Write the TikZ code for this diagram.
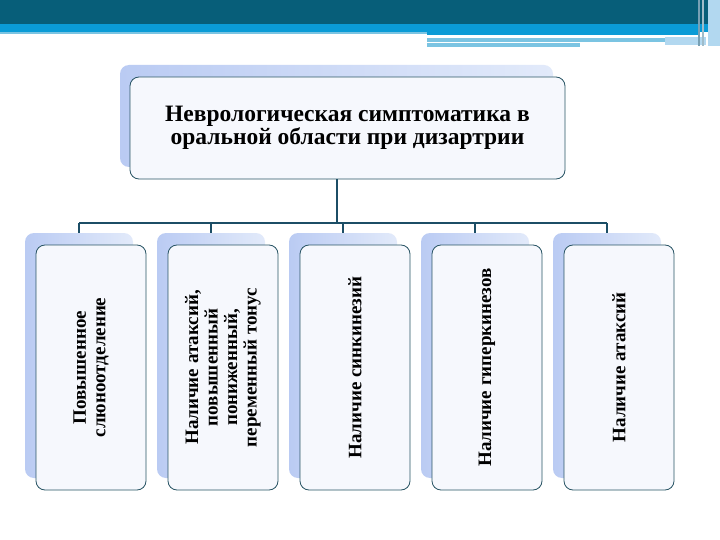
\documentclass[tikz,border=0pt]{standalone}
\usepackage{fontspec}
\setmainfont{Liberation Serif}
\definecolor{BandDark}{RGB}{7, 94, 121}
\definecolor{BandBright}{RGB}{10, 155, 214}
\definecolor{BandLight}{RGB}{123, 196, 226}
\definecolor{BandPale}{RGB}{178, 216, 240}
\definecolor{StripeGray}{RGB}{120, 160, 180}
\definecolor{CardLine}{RGB}{40, 84, 100}
\definecolor{CardFill}{RGB}{246, 248, 253}
\definecolor{ShadowBlue}{RGB}{186, 203, 243}
\definecolor{ShadowPale}{RGB}{226, 234, 250}
\definecolor{LinkTeal}{RGB}{28, 78, 102}
\usetikzlibrary{positioning}

\begin{document}
\begin{tikzpicture}[x=1pt, y=-1pt,
    card/.style={draw=CardLine, line width=0.8pt, rounded corners=9pt, fill=CardFill, inner sep=0pt},
    cardshadow/.style={rounded corners=9pt, left color=ShadowBlue, right color=ShadowPale, inner sep=0pt},
    colshadow/.style={cardshadow, minimum width=108pt, minimum height=245pt},
    symptom/.style={card, rotate=90, minimum width=245pt, minimum height=110pt, align=center,
        font=\fontsize{19}{19.5}\selectfont\bfseries},
    link/.style={draw=LinkTeal, line width=2pt}]
    \useasboundingbox (0,0) rectangle (720,540);
    \fill[white] (0,0) rectangle (720,540);

    % header band
    \fill[BandDark] (0,0) rectangle (720,24);
    \fill[BandBright] (0,24) rectangle (720,32);
    \fill[BandLight] (0,32) rectangle (427,34);
    \fill[BandBright] (427,32) rectangle (700,35);
    \fill[BandLight] (427,38) rectangle (665,42);
    \fill[BandPale] (665,37) rectangle (706,45);
    \fill[BandLight] (427,43) rectangle (580,47);
    \fill[BandPale] (708,0) rectangle (720,46);
    \fill[StripeGray] (698,0) rectangle (700,46);
    \fill[StripeGray!70] (702,0) rectangle (704,46);

    % shadows
    \node[cardshadow, minimum width=433pt, minimum height=102pt] (tshadow) at (336.5,116) {};
    \node[colshadow] (s1) at (79,355.5) {};
    \node[colshadow] (s2) at (211,355.5) {};
    \node[colshadow] (s3) at (343,355.5) {};
    \node[colshadow] (s4) at (475,355.5) {};
    \node[colshadow] (s5) at (607,355.5) {};

    % connectors
    \coordinate (bus) at (336.5,223);
    \draw[link] (tshadow.south) -- (bus);
    \draw[link] (s1.north |- bus) -- (s5.north |- bus);
    \draw[link] (s1.north |- bus) -- (s1.north);
    \draw[link] (s2.north |- bus) -- (s2.north);
    \draw[link] (s3.north |- bus) -- (s3.north);
    \draw[link] (s4.north |- bus) -- (s4.north);
    \draw[link] (s5.north |- bus) -- (s5.north);

    % boxes
    \node[card, minimum width=435pt, minimum height=102pt, align=center,
        font=\fontsize{23.5}{22.5}\selectfont\bfseries] (title) at (347.5,128)
        {Неврологическая симптоматика в\\оральной области при дизартрии};
    \node[symptom] (b1) at (91,367.5) {Повышенное\\слюноотделение};
    \node[symptom] (b2) at (223,367.5) {Наличие атаксий,\\повышенный\\пониженный,\\переменный тонус};
    \node[symptom] (b3) at (355,367.5) {Наличие синкинезий};
    \node[symptom] (b4) at (487,367.5) {Наличие гиперкинезов};
    \node[symptom] (b5) at (619,367.5) {Наличие атаксий};
\end{tikzpicture}
\end{document}
